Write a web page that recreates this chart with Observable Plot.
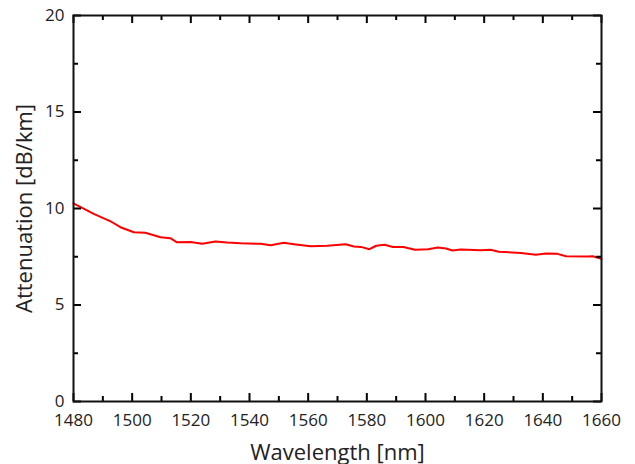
<!DOCTYPE html>
<html>
<head>
<meta charset="utf-8">
<script src="https://cdn.jsdelivr.net/npm/d3@7"></script>
<script src="https://cdn.jsdelivr.net/npm/@observablehq/plot@0.6"></script>
<style>
  body { margin: 0; background: #fff; }
  svg { font-family: "Open Sans", sans-serif; }
  g[aria-label="x-axis label"] text, g[aria-label="y-axis label"] text { font-size: 22px; }
</style>
</head>
<body>
<div id="chart"></div>
<script>
const wavelength = [1480, 1486.9, 1491.5, 1492.6, 1496, 1500.6, 1504.5, 1509.7, 1513, 1515.3, 1519.9, 1523.9, 1528.4, 1532.4, 1537, 1543.8, 1547.2, 1551.7, 1555.1, 1560.9, 1566.5, 1572.8, 1575.6, 1578, 1580.9, 1583.2, 1586, 1588.9, 1592.5, 1596.4, 1600.9, 1604.2, 1607, 1609.2, 1612, 1618.8, 1622.2, 1625, 1632.5, 1637.6, 1641, 1645, 1647.9, 1655.3, 1657, 1660];
const attenuation = [10.27, 9.72, 9.41, 9.34, 9.03, 8.77, 8.74, 8.51, 8.46, 8.25, 8.27, 8.17, 8.29, 8.24, 8.2, 8.17, 8.1, 8.22, 8.15, 8.05, 8.07, 8.15, 8.03, 8.01, 7.89, 8.07, 8.12, 8.01, 8.01, 7.86, 7.89, 7.98, 7.93, 7.82, 7.88, 7.84, 7.86, 7.76, 7.7, 7.6, 7.67, 7.65, 7.53, 7.51, 7.53, 7.39];
const xTicks = [1480, 1500, 1520, 1540, 1560, 1580, 1600, 1620, 1640, 1660];
const xMinor = [1490, 1510, 1530, 1550, 1570, 1590, 1610, 1630, 1650];
const yTicks = [0, 5, 10, 15, 20];
const yMinor = [2.5, 7.5, 12.5, 17.5];

const data = wavelength.map((w, i) => ({w, a: attenuation[i]}));
const plain = d => String(d);

const W = 635, H = 464, mL = 73, mR = 34, mT = 15, mB = 63;
const fw = W - mL - mR, fh = H - mT - mB;
const xD = [1480, 1660], yD = [0, 20];
// tick lengths (px) converted to data units
const ux = (xD[1] - xD[0]) / fw, uy = (yD[1] - yD[0]) / fh;
const major = 8, minor = 5;
const ts = {stroke: "#000", strokeWidth: 2};

const chart = Plot.plot({
  width: W,
  height: H,
  marginLeft: mL,
  marginRight: mR,
  marginTop: mT,
  marginBottom: mB,
  x: {domain: xD},
  y: {domain: yD},
  marks: [
    Plot.line(data, {x: "w", y: "a", stroke: "#ff0000", strokeWidth: 2}),
    Plot.axisX(xTicks, {anchor: "bottom", tickSize: 0, tickPadding: 12, fontSize: 17, tickFormat: plain, label: "Wavelength [nm]", labelAnchor: "center", labelArrow: "none", labelOffset: 58, fill: "#222"}),
    Plot.axisY(yTicks, {anchor: "left", tickSize: 0, tickPadding: 9, fontSize: 17, tickFormat: plain, label: "Attenuation [dB/km]", labelAnchor: "center", labelArrow: "none", labelOffset: 57, fill: "#222"}),
    Plot.ruleX(xTicks, {...ts, x: d => d, y1: yD[0], y2: yD[0] + major * uy}),
    Plot.ruleX(xMinor, {...ts, x: d => d, y1: yD[0], y2: yD[0] + minor * uy}),
    Plot.ruleX(xTicks, {...ts, x: d => d, y1: yD[1], y2: yD[1] - major * uy}),
    Plot.ruleX(xMinor, {...ts, x: d => d, y1: yD[1], y2: yD[1] - minor * uy}),
    Plot.ruleY(yTicks, {...ts, y: d => d, x1: xD[0], x2: xD[0] + major * ux}),
    Plot.ruleY(yMinor, {...ts, y: d => d, x1: xD[0], x2: xD[0] + minor * ux}),
    Plot.ruleY(yTicks, {...ts, y: d => d, x1: xD[1], x2: xD[1] - major * ux}),
    Plot.ruleY(yMinor, {...ts, y: d => d, x1: xD[1], x2: xD[1] - minor * ux}),
    Plot.frame({stroke: "#111", strokeWidth: 2})
  ]
});
document.getElementById("chart").appendChild(chart);
</script>
</body>
</html>
